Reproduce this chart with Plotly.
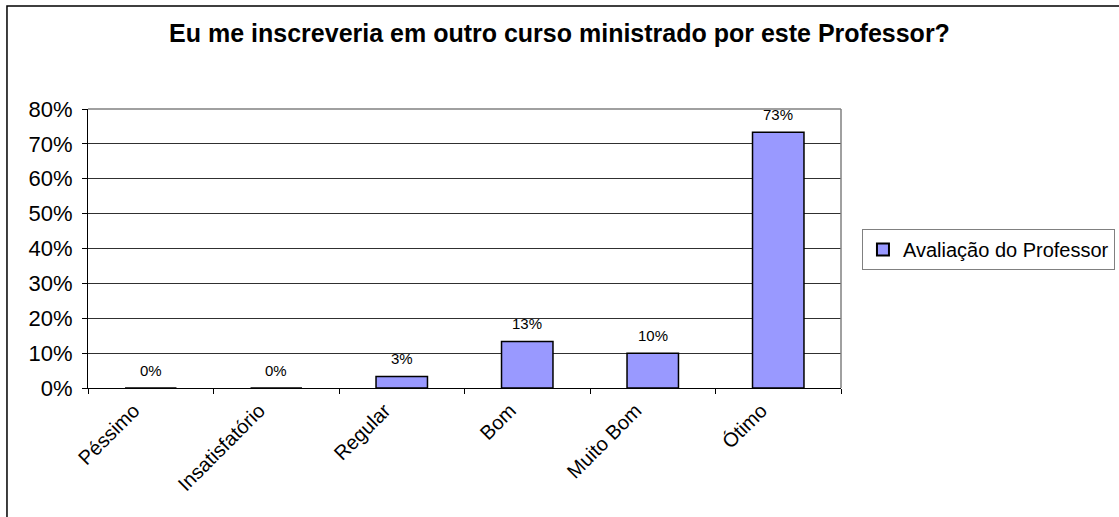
# Avaliação do professor - gráfico de barras
import plotly.graph_objects as go

# dados
categorias = ["Péssimo", "Insatisfatório", "Regular", "Bom", "Muito Bom", "Ótimo"]
valores = [0.0, 0.0, 0.0333, 0.1333, 0.10, 0.7333]
rotulos = ["0%", "0%", "3%", "13%", "10%", "73%"]
serie = "Avaliação do Professor"
titulo = "Eu me inscreveria em outro curso ministrado por este Professor?"

fonte = "Liberation Sans, Arial, sans-serif"

fig = go.Figure()
fig.add_trace(go.Bar(
    x=categorias,
    y=valores,
    name=serie,
    width=0.41,
    marker=dict(color="#9999FF", line=dict(color="black", width=1.5)),
    showlegend=True,
))

# rótulos de dados acima das barras
for cat, val, rot in zip(categorias, valores, rotulos):
    fig.add_annotation(x=cat, y=val, text=rot, showarrow=False,
                       yanchor="middle", yshift=18,
                       font=dict(size=15, color="black"))

fig.update_layout(
    width=1119,
    height=517,
    margin=dict(l=88, r=278, t=109, b=129),
    paper_bgcolor="white",
    plot_bgcolor="white",
    font=dict(family=fonte, color="black"),
    title=dict(text="<b>" + titulo + "</b>", x=0.5, xref="container", xanchor="center",
               y=0.935, yanchor="middle", font=dict(size=25, family=fonte, color="black")),
    legend=dict(xref="container", yref="container", x=0.7703, y=0.557,
                xanchor="left", yanchor="top",
                bordercolor="#808080", borderwidth=1, font=dict(size=20),
                itemsizing="constant"),
    shapes=[dict(type="rect", xref="paper", yref="paper",
                 x0=-0.1076, x1=1.6, y0=-0.7, y1=1.369,
                 line=dict(color="black", width=1.5), fillcolor="rgba(0,0,0,0)",
                 layer="below")],
)

fig.update_yaxes(
    range=[0, 0.8], dtick=0.1, tickformat=".0%",
    showgrid=True, gridcolor="#303030", gridwidth=1,
    showline=True, linecolor="black", linewidth=1,
    mirror=False, ticks="outside", ticklen=5, tickcolor="black",
    tickfont=dict(size=22), zeroline=False, ticklabelstandoff=5,
)
fig.update_xaxes(
    tickangle=-45, tickson="boundaries", ticks="outside", ticklen=5,
    tickcolor="black", showline=True, linecolor="black", linewidth=1,
    tickfont=dict(size=20), ticklabelshift=-17, ticklabelstandoff=2,
)
# moldura cinza da área do gráfico (topo e direita)
fig.add_shape(type="line", xref="paper", yref="paper", x0=1, x1=1, y0=0, y1=1,
              line=dict(color="#808080", width=1.5))
fig.add_shape(type="line", xref="paper", yref="paper", x0=0, x1=1, y0=1, y1=1,
              line=dict(color="#808080", width=1.5))

# sem margem da página para a figura ocupar a janela inteira
fig.write_html("out.html", config={"displayModeBar": False},
               post_script="document.body.style.margin='0';")
